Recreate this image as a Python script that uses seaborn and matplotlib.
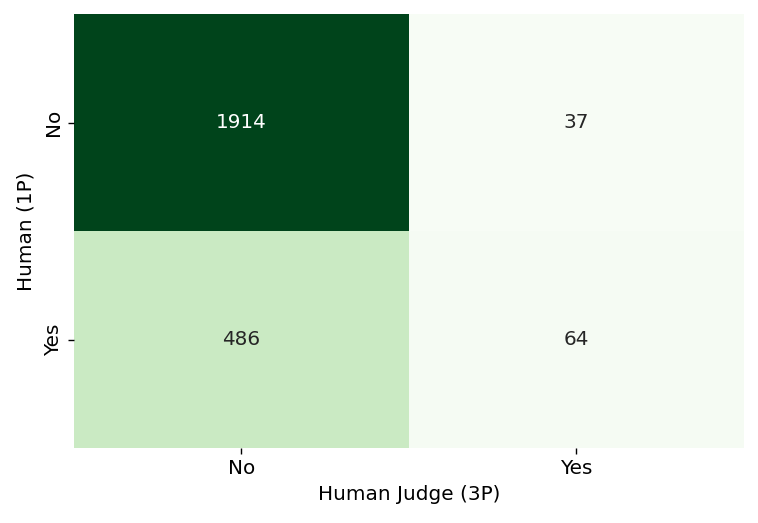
import numpy as np
import pandas as pd
import matplotlib
matplotlib.use("Agg")
import matplotlib.pyplot as plt
import seaborn as sns

# confusion matrix counts
row_labels = ["No", "Yes"]   # Human (1P)
col_labels = ["No", "Yes"]   # Human Judge (3P)
counts = [[1914, 37],
          [486, 64]]

df = pd.DataFrame(counts, index=row_labels, columns=col_labels)

# figure is 120 dpi-ish look: scale default 12pt text by 1.2
fig, ax = plt.subplots(figsize=(7.58, 5.23), dpi=100)
sns.heatmap(df, annot=True, fmt="d", cmap="Greens", cbar=False, ax=ax,
            annot_kws={"fontsize": 14.4})
ax.set_xlabel("Human Judge (3P)", fontsize=14.4, labelpad=5)
ax.set_ylabel("Human (1P)", fontsize=14.4, labelpad=6)
ax.tick_params(labelsize=14.4, length=4.2, width=1.0, pad=4)
plt.subplots_adjust(left=0.0976, right=0.9815, top=0.9732, bottom=0.1434)
plt.savefig("out.png", dpi=100)
